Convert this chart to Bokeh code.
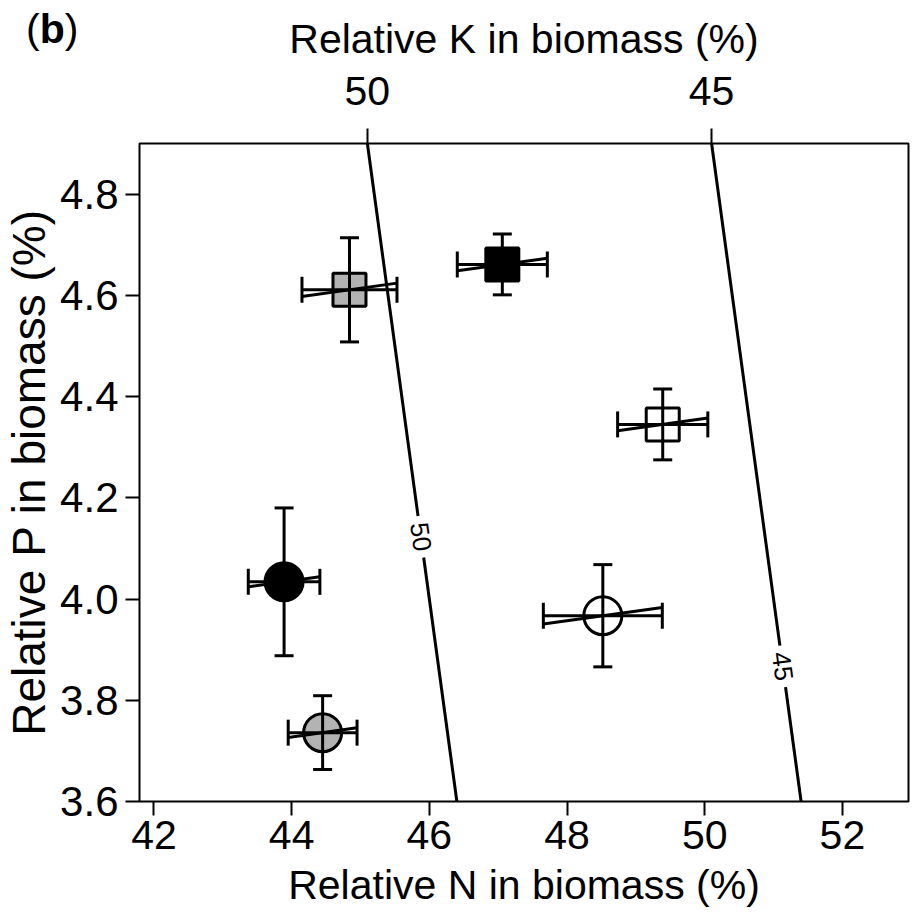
import numpy as np
from bokeh.plotting import figure
from bokeh.layouts import column
from bokeh.models import (Range1d, LinearAxis, FixedTicker, Whisker, ColumnDataSource,
                          TeeHead, Div)
from bokeh.core.properties import value
from bokeh.embed import file_html
from bokeh.resources import INLINE

# ---- data ----
N = [44.84, 47.06, 49.39, 43.89, 48.52, 44.45]          # Relative N (%)
P = [4.611, 4.661, 4.345, 4.034, 3.967, 3.736]          # Relative P (%)
N_err = [0.69, 0.654, 0.655, 0.52, 0.864, 0.50]
P_err = [0.103, 0.060, 0.070, 0.146, 0.101, 0.073]
shape = ["square", "square", "square", "circle", "circle", "circle"]
fill = ["#b3b3b3", "black", "white", "black", "white", "#b3b3b3"]

x_ticks = [42, 44, 46, 48, 50, 52]
y_ticks = [3.6, 3.8, 4.0, 4.2, 4.4, 4.6, 4.8]
y_tick_labels = ["3.6", "3.8", "4.0", "4.2", "4.4", "4.6", "4.8"]
K_levels = [50, 45]
K_label_P = [4.123, 3.867]
panel_tag = "b"

FONT = "Liberation Sans"
W, H = 912, 919
BL, BR, BT, BB = 139, 4, 143, 118
x_lo, x_hi = 41.79, 52.96
y_lo, y_hi = 3.6, 4.9

p = figure(width=W, height=H, x_range=Range1d(x_lo, x_hi), y_range=Range1d(y_lo, y_hi),
           output_backend="svg", toolbar_location=None,
           min_border_left=BL, min_border_right=BR, min_border_top=BT, min_border_bottom=BB)
p.xgrid.visible = False
p.ygrid.visible = False
p.outline_line_color = "black"
p.outline_line_width = 2
p.outline_line_alpha = 1.0
p.background_fill_color = "white"
p.border_fill_color = "white"

# pixel scales
px_x = (W - BL - BR) / (x_hi - x_lo)
px_y = (H - BT - BB) / (y_hi - y_lo)

def style_axis(ax, tick_fs="41px", title_fs="41px"):
    ax.axis_line_color = None
    ax.major_tick_line_color = "black"
    ax.major_tick_line_width = 2
    ax.major_tick_in = 0
    ax.major_tick_out = 14
    ax.minor_tick_line_color = None
    ax.major_label_text_font = FONT
    ax.major_label_text_font_size = tick_fs
    ax.major_label_text_color = "black"
    ax.axis_label_text_font = FONT
    ax.axis_label_text_font_size = title_fs
    ax.axis_label_text_font_style = "normal"
    ax.axis_label_text_color = "black"

xa = p.xaxis[0]
xa.ticker = FixedTicker(ticks=x_ticks)
xa.axis_label = "Relative N in biomass (%)"
style_axis(xa)
xa.major_label_standoff = 5
xa.axis_label_standoff = 10

ya = p.yaxis[0]
ya.ticker = FixedTicker(ticks=y_ticks)
ya.major_label_overrides = {t: l for t, l in zip(y_ticks, y_tick_labels)}
ya.axis_label = "Relative P in biomass (%)"
style_axis(ya, tick_fs="42px", title_fs="46px")
ya.major_label_standoff = 7
ya.axis_label_standoff = 2

# top axis: relative K at the top edge of the frame (K = 100 - N - P)
K_start = 100 - x_lo - y_hi
K_end = 100 - x_hi - y_hi
p.extra_x_ranges = {"K": Range1d(start=K_start, end=K_end)}
ka = LinearAxis(x_range_name="K", ticker=FixedTicker(ticks=K_levels),
                axis_label="Relative K in biomass (%)")
style_axis(ka)
ka.major_tick_out = 15
ka.major_label_standoff = 24
ka.axis_label_standoff = 12
p.add_layout(ka, "above")

# ---- constant-K lines with inline labels ----
gap = 0.041
xs, ys = [], []
for K, pc in zip(K_levels, K_label_P):
    for a, b in [(y_lo, pc - gap), (pc + gap, y_hi)]:
        pp = np.array([a, b])
        xs.append(list(100 - K - pp))
        ys.append(list(pp))
p.multi_line(xs=xs, ys=ys, line_color="black", line_width=3)

ang = -np.arctan2(px_y, px_x)
p.text(x=[100 - K - pc for K, pc in zip(K_levels, K_label_P)], y=K_label_P,
       text=[str(k) for k in K_levels], angle=ang,
       text_font=value(FONT), text_font_size="26px", text_color="black",
       text_align="center", text_baseline="middle")

# ---- markers ----
size_map = {"square": 33, "circle": 38}
src = ColumnDataSource(dict(
    N=N, P=P, shape=shape, fill=fill,
    size=[size_map[s] for s in shape],
    lo_P=[v - e for v, e in zip(P, P_err)], hi_P=[v + e for v, e in zip(P, P_err)],
    lo_N=[v - e for v, e in zip(N, N_err)], hi_N=[v + e for v, e in zip(N, N_err)],
))
p.scatter(x="N", y="P", source=src, marker="shape", size="size",
          fill_color="fill", line_color="black", line_width=3)

# tilted companion line of the horizontal error bars
slope = 0.14 * px_x / px_y
p.segment(x0=[v - e for v, e in zip(N, N_err)], y0=[v - slope * e for v, e in zip(P, N_err)],
          x1=[v + e for v, e in zip(N, N_err)], y1=[v + slope * e for v, e in zip(P, N_err)],
          line_color="black", line_width=3)

wv = Whisker(source=src, base="N", lower="lo_P", upper="hi_P", dimension="height",
             line_color="black", line_width=3, level="annotation",
             upper_head=TeeHead(size=19, line_width=3, line_color="black"),
             lower_head=TeeHead(size=19, line_width=3, line_color="black"))
wh = Whisker(source=src, base="P", lower="lo_N", upper="hi_N", dimension="width",
             line_color="black", line_width=3, level="annotation",
             upper_head=TeeHead(size=26, line_width=3, line_color="black"),
             lower_head=TeeHead(size=26, line_width=3, line_color="black"))
p.add_layout(wv)
p.add_layout(wh)

# ---- panel label "(b)" floating over the top-left corner (takes no layout space) ----
inner = (f'<div style="position:relative; top:9px; left:26px; font-family:\'{FONT}\'; '
         f'font-size:41px; line-height:1; color:black; white-space:nowrap;">'
         f'(<b>{panel_tag}</b>)</div>')
tag = Div(text=inner, width=120, height=0, margin=(0, 0, 0, 0),
          styles={"position": "relative", "z-index": "10", "overflow": "visible"})

layout = column(tag, p, spacing=0)
open("out.html", "w").write(file_html(layout, INLINE))
